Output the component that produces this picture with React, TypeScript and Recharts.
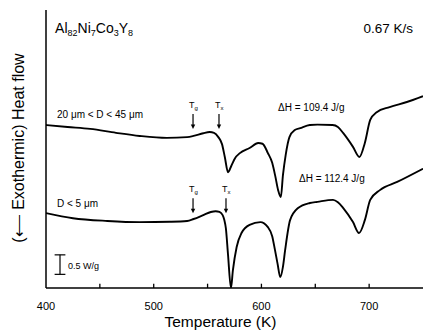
import { ComposedChart, Line, XAxis, YAxis, ReferenceDot, ReferenceLine } from "recharts";

if (typeof document !== "undefined") document.body.style.margin = "0";

const FONT = "Arial, 'Liberation Sans', Helvetica, sans-serif";

type Pt = { t: number; v: number };

// DSC trace, 20 um < D < 45 um powder (heat flow, W/g, offset)
const coarse: Pt[] = [
  { t: 400, v: 4.18 }, { t: 420, v: 4.13 }, { t: 441, v: 4.08 }, { t: 465, v: 3.98 },
  { t: 487, v: 3.9 }, { t: 512, v: 3.85 }, { t: 531, v: 3.87 }, { t: 537, v: 3.9 },
  { t: 546, v: 3.97 }, { t: 552, v: 4.0 }, { t: 556, v: 3.98 }, { t: 560, v: 3.87 },
  { t: 563.4, v: 3.69 }, { t: 566, v: 3.36 }, { t: 569, v: 2.97 }, { t: 572, v: 3.13 },
  { t: 575.5, v: 3.33 }, { t: 580, v: 3.46 }, { t: 589, v: 3.59 }, { t: 597, v: 3.72 },
  { t: 601, v: 3.7 }, { t: 606, v: 3.46 }, { t: 610, v: 3.21 }, { t: 613, v: 2.85 },
  { t: 615.5, v: 2.51 }, { t: 618, v: 2.33 }, { t: 620, v: 2.9 }, { t: 622.5, v: 3.41 },
  { t: 626, v: 3.87 }, { t: 631, v: 4.05 }, { t: 636, v: 4.1 }, { t: 645, v: 4.18 },
  { t: 652, v: 4.19 }, { t: 666, v: 4.18 }, { t: 671, v: 4.13 }, { t: 676, v: 3.97 },
  { t: 685, v: 3.62 }, { t: 691, v: 3.36 }, { t: 696, v: 3.72 }, { t: 701, v: 4.31 },
  { t: 707, v: 4.51 }, { t: 719, v: 4.64 }, { t: 735, v: 4.77 }, { t: 750, v: 4.92 },
];

// DSC trace, D < 5 um powder
const fine: Pt[] = [
  { t: 400, v: 1.92 }, { t: 425, v: 1.79 }, { t: 457, v: 1.72 }, { t: 487, v: 1.69 },
  { t: 515, v: 1.7 }, { t: 531, v: 1.72 }, { t: 537, v: 1.77 }, { t: 546, v: 1.87 },
  { t: 553, v: 1.95 }, { t: 557.5, v: 1.97 }, { t: 561, v: 1.95 }, { t: 564, v: 1.87 },
  { t: 565.5, v: 1.75 }, { t: 567, v: 1.53 }, { t: 569, v: 0.85 }, { t: 571.7, v: 0.0 },
  { t: 573.5, v: 0.45 }, { t: 577, v: 1.05 }, { t: 581.5, v: 1.41 }, { t: 589, v: 1.62 },
  { t: 599, v: 1.69 }, { t: 606, v: 1.56 }, { t: 610, v: 1.33 }, { t: 612.6, v: 0.97 },
  { t: 615, v: 0.62 }, { t: 617.5, v: 0.28 }, { t: 620, v: 0.55 }, { t: 622, v: 0.97 },
  { t: 626.6, v: 1.74 }, { t: 634, v: 2.05 }, { t: 645, v: 2.18 }, { t: 652, v: 2.21 },
  { t: 666.5, v: 2.26 }, { t: 671, v: 2.2 }, { t: 676, v: 2.05 }, { t: 685, v: 1.69 },
  { t: 690.6, v: 1.41 }, { t: 696, v: 1.74 }, { t: 701, v: 2.26 }, { t: 710, v: 2.51 },
  { t: 726, v: 2.72 }, { t: 750, v: 3.06 },
];

const xTicks = [400, 450, 500, 550, 600, 650, 700, 750];
const xTickLabels = [400, 500, 600, 700];
const innerTicks = [450, 500, 550, 600, 650, 700];

// Tg / Tx onset arrows (tip position)
const onsets = [
  { t: 536.5, v: 4.08, sub: "g" },
  { t: 560.6, v: 4.08, sub: "x" },
  { t: 536.5, v: 1.92, sub: "g" },
  { t: 567.1, v: 1.92, sub: "x" },
];

const sampleLabels = [
  { t: 410.2, v: 4.36, text: "20 μm < D < 45 μm" },
  { t: 410.2, v: 2.09, text: "D < 5 μm" },
];

const enthalpyLabels = [
  { t: 615.4, v: 4.53, text: "ΔH = 109.4 J/g" },
  { t: 634.9, v: 2.73, text: "ΔH = 112.4 J/g" },
];

const scaleBar = { t: 413, v: 0.35, size: 0.5, half: 5, text: "0.5 W/g" };
const title = { t: 408.4, v: 6.54 };
const rate = { t: 740.7, v: 6.54, text: "0.67 K/s" };

function Onset({ cx, cy, sub }: { cx?: number; cy?: number; sub: string }) {
  if (cx == null || cy == null) return <g />;
  return (
    <g>
      <line x1={cx} x2={cx} y1={cy - 15} y2={cy - 3} stroke="#000" strokeWidth={1.2} />
      <polygon points={`${cx - 2.2},${cy - 4.5} ${cx + 2.2},${cy - 4.5} ${cx},${cy}`} fill="#000" />
      <text x={cx - 4} y={cy - 21} fontFamily={FONT} fontSize={9} fill="#000">
        T<tspan fontSize={6} dy={2}>{sub}</tspan>
      </text>
    </g>
  );
}

function Note({ cx, cy, text, size, anchor = "start" }: { cx?: number; cy?: number; text: string; size: number; anchor?: string }) {
  if (cx == null || cy == null) return <g />;
  return (
    <text x={cx} y={cy} fontFamily={FONT} fontSize={size} fill="#000" textAnchor={anchor}>
      {text}
    </text>
  );
}

function Title({ cx, cy }: { cx?: number; cy?: number }) {
  if (cx == null || cy == null) return <g />;
  return (
    <text x={cx} y={cy} fontFamily={FONT} fontSize={14} fill="#000">
      Al<tspan fontSize={9} dy={3}>82</tspan>
      <tspan dy={-3}>Ni</tspan>
      <tspan fontSize={9} dy={3}>7</tspan>
      <tspan dy={-3}>Co</tspan>
      <tspan fontSize={9} dy={3}>3</tspan>
      <tspan dy={-3}>Y</tspan>
      <tspan fontSize={9} dy={3}>8</tspan>
    </text>
  );
}

export default function App() {
  return (
    <div style={{ width: 441, height: 336, background: "#fff" }}>
      <ComposedChart width={441} height={336} margin={{ top: 10, right: 18, bottom: 0, left: 0 }}>
        <XAxis
          type="number"
          dataKey="t"
          domain={[400, 750]}
          ticks={xTicks}
          allowDataOverflow
          tickLine={false}
          tickMargin={8}
          height={48}
          stroke="#000"
          axisLine={{ stroke: "#000", strokeWidth: 1.5 }}
          tick={{ fontSize: 11, fontFamily: FONT, fill: "#000" }}
          tickFormatter={(v: number) => (xTickLabels.includes(v) ? String(v) : "")}
          label={{
            content: ({ viewBox }: any) => (
              <text
                x={viewBox.x + viewBox.width / 2 - 14}
                y={viewBox.y + 39}
                textAnchor="middle"
                fontFamily={FONT}
                fontSize={15.5}
                fill="#000"
              >
                Temperature (K)
              </text>
            ),
          }}
        />
        <XAxis
          xAxisId="top"
          orientation="top"
          type="number"
          dataKey="t"
          domain={[400, 750]}
          height={0}
          tick={false}
          tickLine={false}
          axisLine={{ stroke: "#000", strokeWidth: 1.5 }}
        />
        <YAxis
          type="number"
          domain={[0, 7.13]}
          allowDataOverflow
          width={46}
          tick={false}
          tickLine={false}
          axisLine={{ stroke: "#000", strokeWidth: 1.5 }}
          label={{
            content: ({ viewBox }: any) => {
              const x = viewBox.x + 18;
              const y = viewBox.y + viewBox.height / 2 - 1;
              return (
                <text
                  x={x}
                  y={y}
                  transform={`rotate(-90, ${x}, ${y})`}
                  textAnchor="middle"
                  dominantBaseline="central"
                  fontFamily={FONT}
                  fontSize={16}
                  fill="#000"
                >
                  (⟵ Exothermic) Heat flow
                </text>
              );
            },
          }}
        />
        <YAxis
          yAxisId="right"
          orientation="right"
          type="number"
          domain={[0, 7.13]}
          width={0}
          tick={false}
          tickLine={false}
          axisLine={{ stroke: "#000", strokeWidth: 1.5 }}
        />

        {/* inward x ticks */}
        {innerTicks.map((t) => (
          <ReferenceLine key={`tk${t}`} segment={[{ x: t, y: 0 }, { x: t, y: 0.11 }]} stroke="#000" strokeWidth={1.3} />
        ))}

        <Line data={coarse} dataKey="v" type="monotone" stroke="#000" strokeWidth={1.9} dot={false} activeDot={false} isAnimationActive={false} />
        <Line data={fine} dataKey="v" type="monotone" stroke="#000" strokeWidth={1.9} dot={false} activeDot={false} isAnimationActive={false} />

        {onsets.map((o, i) => (
          <ReferenceDot key={`on${i}`} x={o.t} y={o.v} r={1} shape={(p: any) => <Onset cx={p.cx} cy={p.cy} sub={o.sub} />} />
        ))}
        {sampleLabels.map((o, i) => (
          <ReferenceDot key={`s${i}`} x={o.t} y={o.v} r={1} shape={(p: any) => <Note cx={p.cx} cy={p.cy} text={o.text} size={10} />} />
        ))}
        {enthalpyLabels.map((o, i) => (
          <ReferenceDot key={`h${i}`} x={o.t} y={o.v} r={1} shape={(p: any) => <Note cx={p.cx} cy={p.cy} text={o.text} size={10} />} />
        ))}
        <ReferenceDot x={title.t} y={title.v} r={1} shape={(p: any) => <Title cx={p.cx} cy={p.cy} />} />
        <ReferenceDot x={rate.t} y={rate.v} r={1} shape={(p: any) => <Note cx={p.cx} cy={p.cy} text={rate.text} size={13.5} anchor="end" />} />

        {/* 0.5 W/g scale bar */}
        <ReferenceLine
          segment={[{ x: scaleBar.t, y: scaleBar.v }, { x: scaleBar.t, y: scaleBar.v + scaleBar.size }]}
          stroke="#000"
          strokeWidth={1.2}
        />
        <ReferenceLine
          segment={[{ x: scaleBar.t - scaleBar.half, y: scaleBar.v }, { x: scaleBar.t + scaleBar.half, y: scaleBar.v }]}
          stroke="#000"
          strokeWidth={1.2}
        />
        <ReferenceLine
          segment={[{ x: scaleBar.t - scaleBar.half, y: scaleBar.v + scaleBar.size }, { x: scaleBar.t + scaleBar.half, y: scaleBar.v + scaleBar.size }]}
          stroke="#000"
          strokeWidth={1.2}
        />
        <ReferenceDot
          x={scaleBar.t + 7.4}
          y={scaleBar.v + scaleBar.size / 2 - 0.1}
          r={1}
          shape={(p: any) => <Note cx={p.cx} cy={p.cy} text={scaleBar.text} size={9} />}
        />
      </ComposedChart>
    </div>
  );
}
